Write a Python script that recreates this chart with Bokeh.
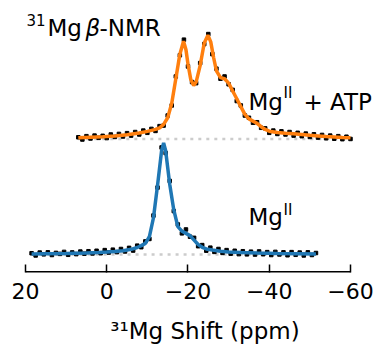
from bokeh.plotting import figure
from bokeh.models import Range1d, FixedTicker, Label
from bokeh.embed import file_html
from bokeh.resources import INLINE

# ---- data ----
tick_values = [20, 0, -20, -40, -60]
tick_labels = ["20", "0", "\u221220", "\u221240", "\u221260"]

blue_x = [18.5, 17.5, 16.5, 15.5, 14.5, 13.5, 12.5, 11.5, 10.5, 9.5, 8.5, 7.5, 6.5, 5.5,
          4.5, 3.5, 2.5, 1.5, 0.5, -0.5, -1.5, -2.5, -3.5, -4.5, -5.5, -6.5, -7.5, -8.5,
          -9.5, -10.5, -11.5, -12.5, -13.5, -14.5, -15.5, -16.5, -17.5, -18.5, -19.5,
          -20.5, -21.5, -22.5, -23.5, -24.5, -25.5, -26.5, -27.5, -28.5, -29.5, -30.5,
          -31.5, -32.5, -33.5, -34.5, -35.5, -36.5, -37.5, -38.5, -39.5, -40.5, -41.5,
          -42.5, -43.5, -44.5, -45.5, -46.5, -47.5, -48.5, -49.5, -50.5, -51.5]
blue_y = [0.012, -0.008, 0.018, 0.002, 0.020, -0.004, 0.015, 0.006, 0.024, -0.002, 0.019,
          0.004, 0.027, 0.008, 0.030, 0.010, 0.034, 0.012, 0.040, 0.018, 0.044, 0.022,
          0.050, 0.028, 0.060, 0.036, 0.080, 0.066, 0.118, 0.140, 0.350, 0.600, 0.960,
          0.910, 0.660, 0.390, 0.270, 0.190, 0.225, 0.160, 0.150, 0.075, 0.085, 0.035,
          0.062, 0.024, 0.050, 0.015, 0.040, 0.008, 0.034, 0.004, 0.030, 0.002, 0.026,
          0.000, 0.028, 0.003, 0.022, -0.004, 0.024, 0.001, 0.020, -0.006, 0.022, -0.002,
          0.018, -0.008, 0.020, -0.004, 0.014]

blue_fit_x = [18.5, 15, 10, 5, 2, 0, -2, -4, -6, -7.5, -8.5, -9.5, -10.5, -11.5, -12.5,
              -13.5, -14.0, -14.5, -15.5, -16.5, -17.5, -18.5, -19.5, -20.5, -21.5, -22.5,
              -23.5, -24.5, -26, -28, -30, -33, -37, -42, -47, -51.5]
blue_fit_y = [0.005, 0.007, 0.010, 0.015, 0.019, 0.022, 0.027, 0.034, 0.047, 0.063, 0.080,
              0.10, 0.16, 0.33, 0.62, 0.93, 1.0, 0.93, 0.63, 0.40, 0.25, 0.21, 0.19, 0.17,
              0.13, 0.09, 0.065, 0.05, 0.041, 0.03, 0.024, 0.018, 0.013, 0.009, 0.007, 0.005]

orange_offset = 1.036
orange_x = [7, 6, 5, 4, 3, 2, 1, 0, -1, -2, -3, -4, -5, -6, -7, -8, -9, -10, -11, -12, -13,
            -14, -15, -16, -17, -18, -19, -20, -21, -22, -23, -24, -25, -26, -27, -28, -29,
            -30, -31, -32, -33, -34, -35, -36, -37, -38, -39, -40, -41, -42, -43, -44, -45,
            -46, -47, -48, -49, -50, -51, -52, -53, -54, -55, -56, -57, -58, -59, -60]
orange_y = [0.015, -0.005, 0.025, 0.004, 0.030, 0.010, 0.028, 0.008, 0.040, 0.018, 0.045,
            0.022, 0.052, 0.030, 0.062, 0.040, 0.075, 0.055, 0.090, 0.072, 0.115, 0.120,
            0.210, 0.300, 0.560, 0.750, 0.890, 0.650, 0.510, 0.500, 0.680, 0.850, 0.940,
            0.760, 0.630, 0.540, 0.560, 0.490, 0.440, 0.340, 0.300, 0.210, 0.190, 0.145,
            0.150, 0.100, 0.095, 0.055, 0.075, 0.045, 0.068, 0.040, 0.062, 0.030, 0.055,
            0.025, 0.048, 0.018, 0.042, 0.012, 0.036, 0.006, 0.030, 0.002, 0.025, -0.002,
            0.020, 0.000]

orange_fit_x = [7, 4, 1, -2, -5, -8, -10, -12, -13, -14, -15, -16, -17, -18, -18.9, -19.5,
                -20, -20.7, -21.4, -22, -23, -24, -24.9, -25.6, -26.3, -27, -28, -29, -30,
                -31, -32, -33, -34, -35, -36, -37, -38, -39, -40, -42, -44, -46, -48, -50,
                -52, -54, -56, -58, -60]
orange_fit_y = [0.01, 0.015, 0.019, 0.026, 0.038, 0.053, 0.068, 0.086, 0.10, 0.13, 0.19,
                0.32, 0.54, 0.76, 0.875, 0.80, 0.67, 0.53, 0.48, 0.51, 0.66, 0.86, 0.93,
                0.87, 0.73, 0.61, 0.55, 0.54, 0.50, 0.43, 0.36, 0.29, 0.22, 0.18, 0.16, 0.14,
                0.11, 0.085, 0.07, 0.058, 0.052, 0.047, 0.04, 0.033, 0.027, 0.021, 0.017,
                0.013, 0.011]

BLUE = "#1f77b4"
ORANGE = "#ff7f0e"
FONT = "DejaVu Sans"

Y0, Y1 = -0.1607, 2.2768
p = figure(width=384, height=346, output_backend="svg", toolbar_location=None,
           x_range=Range1d(20, -68.37), y_range=Range1d(Y0, Y1),
           y_axis_location=None, min_border_left=25, min_border_right=0,
           min_border_top=0, min_border_bottom=73)
p.outline_line_color = None
p.grid.visible = False
p.background_fill_color = "white"
p.border_fill_color = "white"

# axis spine spanning the tick range only
p.line([tick_values[0], tick_values[-1]], [Y0, Y0], line_color="black", line_width=3)

# dotted baselines
p.line([blue_x[0], blue_x[-1]], [0, 0], line_color="#cccccc", line_width=2.5, line_dash="3 5")
p.line([orange_x[0], orange_x[-1]], [orange_offset, orange_offset], line_color="#cccccc",
       line_width=2.5, line_dash="3 5")

# data points
p.scatter(blue_x, blue_y, marker="square", size=3.5, color="black")
p.scatter(orange_x, [orange_offset + v for v in orange_y], marker="square", size=3.5, color="black")

# fits
p.line(blue_fit_x, blue_fit_y, line_color=BLUE, line_width=3.5)
p.line(orange_fit_x, [orange_offset + v for v in orange_fit_y], line_color=ORANGE, line_width=3.5)

def txt(x, y, s, size, style="normal"):
    p.add_layout(Label(x=x, y=y, text=s, text_font=FONT, text_font_size=f"{size}px",
                       text_font_style=style, text_align="left",
                       text_baseline="alphabetic", text_color="black"))

# title
txt(19.75, 2.098, "31", 15)
txt(14.58, 2.027, "Mg", 23)
txt(5.23, 2.027, "\u03b2", 23, "italic")
txt(1.78, 2.027, "-NMR", 23)

# Mg(II) + ATP
txt(-34.89, 1.366, "Mg", 23)
txt(-43.51, 1.446, "II", 15)
txt(-48.43, 1.366, "+ ATP", 23)

# Mg(II)
txt(-34.89, 0.339, "Mg", 23)
txt(-43.51, 0.402, "II", 15)

ax = p.xaxis[0]
ax.ticker = FixedTicker(ticks=tick_values)
ax.major_label_overrides = {v: s for v, s in zip(tick_values, tick_labels)}
ax.minor_tick_line_color = None
ax.major_tick_in = 8
ax.major_tick_out = 0
ax.major_tick_line_width = 1.5
ax.major_tick_line_color = "black"
ax.axis_line_color = None
ax.major_label_text_font = FONT
ax.major_label_text_font_size = "22px"
ax.major_label_text_color = "black"
ax.major_label_standoff = 10
ax.axis_label = "\u00b3\u00b9Mg Shift (ppm)"
ax.axis_label_text_font = FONT
ax.axis_label_text_font_size = "23px"
ax.axis_label_text_font_style = "normal"
ax.axis_label_text_color = "black"
ax.axis_label_standoff = 16

open("out.html", "w").write(file_html(p, INLINE))
